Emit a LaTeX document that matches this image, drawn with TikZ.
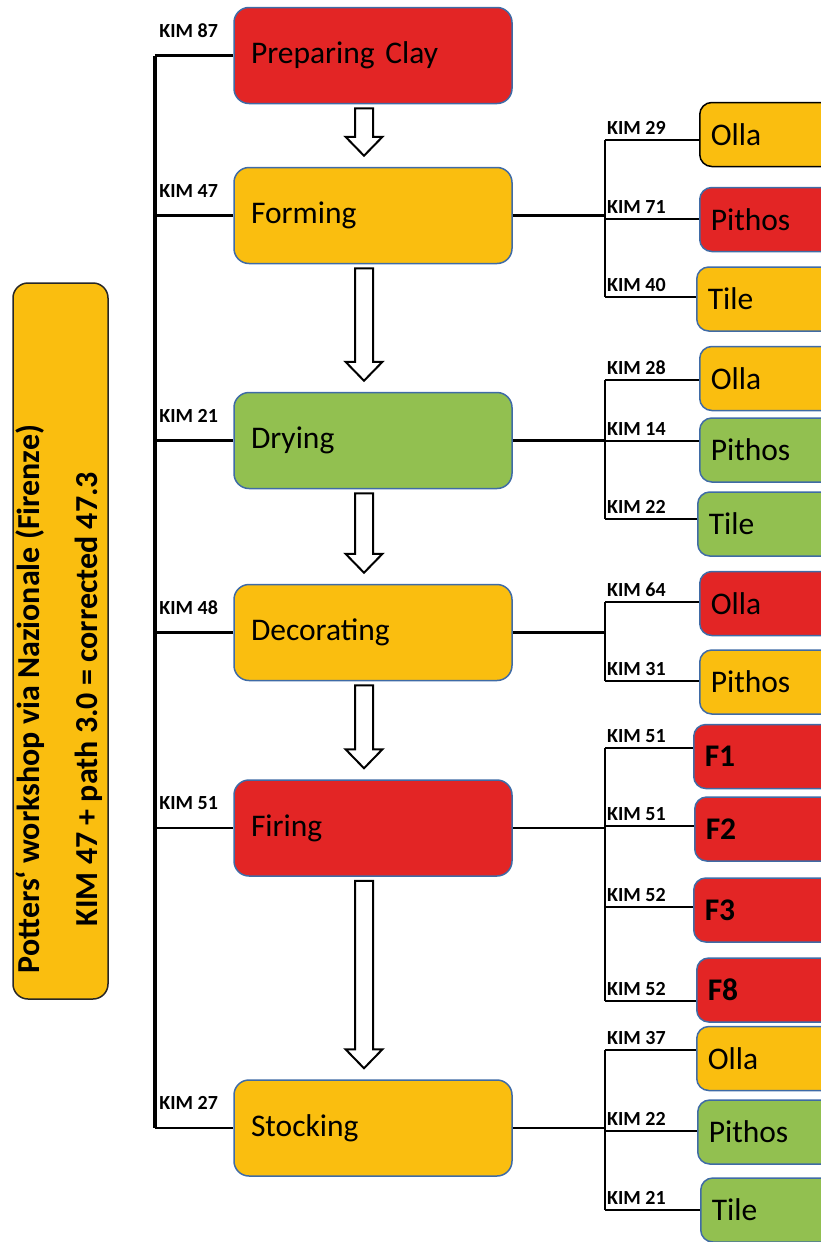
\documentclass[tikz,border=0pt]{standalone}
\usepackage{fontspec}
\setmainfont{Carlito}
\usetikzlibrary{positioning}
\usetikzlibrary{calc}
\definecolor{clayred}{HTML}{E32525}
\definecolor{clayyellow}{HTML}{FABE0F}
\definecolor{claygreen}{HTML}{92C050}
\definecolor{boxblue}{HTML}{3F6BA6}
\tikzset{step node/.style={rectangle,rounded corners=15pt,draw=boxblue,line width=1.5pt,text width=244pt,inner xsep=17pt,minimum height=96pt,align=left,font=\fontsize{31.5}{36}\selectfont},
  item node/.style={rectangle,rounded corners=12pt,line width=1.5pt,anchor=west,text width=126pt,inner xsep=11pt,minimum height=64pt,align=left,font=\fontsize{31.5}{36}\selectfont},
  kim label/.style={anchor=south west,inner sep=0pt,font=\bfseries\fontsize{20}{22}\selectfont},
  title node/.style={rectangle,rounded corners=15pt,draw=black!85,line width=1.5pt,fill=clayyellow},
  title text/.style={align=center,inner sep=0pt,font=\bfseries\fontsize{32}{38}\selectfont},
  link/.style={line width=2.5pt},
  trunk/.style={line width=3.5pt},
  block arrow/.style={draw,line width=2pt,fill=white,line join=miter},}
\newcommand{\hollowarrow}[2]{%
  \draw[block arrow] let \p1=(#1.south), \p2=(#2.north) in
    (355pt,\y1-4pt) -- (373pt,\y1-4pt) -- (373pt,\y2+30pt) -- (382.5pt,\y2+30pt)
    -- (364pt,\y2+11pt) -- (345.5pt,\y2+30pt) -- (355pt,\y2+30pt) -- cycle;}

\begin{document}
\begin{tikzpicture}[x=1pt,y=-1pt]
    \useasboundingbox (0,0) rectangle (821,1242);
    \clip (0,0) rectangle (821,1242);

    % title
    \node[title node,minimum width=95pt,minimum height=716pt] (title) at (60.5,641) {};
    \node[title text,rotate=90] (titletext) at (59,699)
      {Potters‘ workshop via Nazionale (Firenze)\\[20pt]KIM 47 + path 3.0 = corrected 47.3};

    % working steps
    \node[step node,fill=clayred] (clay) at (373,55.5) {Preparing Clay};
    \node[step node,fill=clayyellow] (form) at (373,215.5) {Forming};
    \node[step node,fill=claygreen] (dry) at (373,440.5) {Drying};
    \node[step node,fill=clayyellow] (deco) at (373,632.5) {Decorating};
    \node[step node,fill=clayred] (fire) at (373,828) {Firing};
    \node[step node,fill=clayyellow] (stock) at (373,1128) {Stocking};

    \hollowarrow{clay}{form}
    \hollowarrow{form}{dry}
    \hollowarrow{dry}{deco}
    \hollowarrow{deco}{fire}
    \hollowarrow{fire}{stock}

    % left trunk
    \coordinate (lbar) at (155,0);
    \draw[trunk] (clay.west -| lbar) -- (stock.west -| lbar);
    \foreach \nm/\kim in {clay/87,form/47,dry/21,deco/48,fire/51,stock/27} {
      \draw[link] (\nm.west) -- (\nm.west -| lbar);
      \node[kim label] at ([xshift=-74pt,yshift=18pt]\nm.west) {KIM \kim};
    }

    % products
    \coordinate (rbar) at (605,0);
    \foreach \nm/\bx/\cy/\ly/\kim/\txt/\col/\bd in {
        fo1/699/134.5/140/29/Olla/clayyellow/black,
        fo2/699/219.5/219/71/Pithos/clayred/boxblue,
        fo3/696/299/297/40/Tile/clayyellow/boxblue,
        dr1/699/378.5/380/28/Olla/clayyellow/boxblue,
        dr2/699/450/441/14/Pithos/claygreen/boxblue,
        dr3/697/524/519/22/Tile/claygreen/boxblue,
        de1/699/603.5/602/64/Olla/clayred/boxblue,
        de2/699/682/681/31/Pithos/clayyellow/boxblue,
        fi1/693/756.5/748/51/{\textbf{F1}}/clayred/boxblue,
        fi2/694/829/826/51/{\textbf{F2}}/clayred/boxblue,
        fi3/693/910/907/52/{\textbf{F3}}/clayred/boxblue,
        fi4/696/990/1001/52/{\textbf{F8}}/clayred/boxblue,
        st1/696/1058.5/1050/37/Olla/clayyellow/boxblue,
        st2/697/1132/1131/22/Pithos/claygreen/boxblue,
        st3/700/1210/1210/21/Tile/claygreen/boxblue} {
      \node[item node,fill=\col,draw=\bd] (\nm) at (\bx,\cy) {\txt};
      \coordinate (\nm-l) at (605,\ly);
      \draw[link] (\nm-l) -- (\nm-l -| \nm.west);
      \node[kim label] at (607,\ly-5) {KIM \kim};
    }

    % branches
    \draw[link] (form.east) -- (form.east -| rbar);
    \draw[link] (fo1-l) -- (fo3-l);
    \draw[link] (dry.east) -- (dry.east -| rbar);
    \draw[link] (dr1-l) -- (dr3-l);
    \draw[link] (deco.east) -- (deco.east -| rbar);
    \draw[link] (de1-l) -- (de2-l);
    \draw[link] (fire.east) -- (fire.east -| rbar);
    \draw[link] (fi1-l) -- (fi4-l);
    \draw[link] (stock.east) -- (stock.east -| rbar);
    \draw[link] (st1-l) -- (st3-l);
\end{tikzpicture}
\end{document}
